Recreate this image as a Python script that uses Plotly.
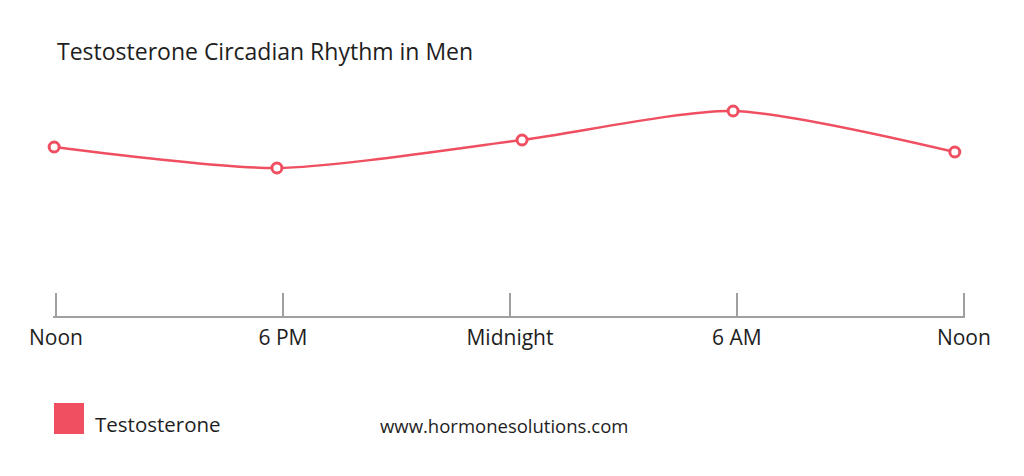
import plotly.graph_objects as go

# ======================
# DATA
# ======================
hours = [-0.05, 5.84, 12.32, 17.9, 23.76]       # hours after noon
level = [169, 148, 176, 205, 164]              # relative testosterone level
tick_hours = [0, 6, 12, 18, 24]
tick_labels = ["Noon", "6 PM", "Midnight", "6 AM", "Noon"]
series_name = "Testosterone"

RED = "#ef4f61"
GREY = "#a0a0a0"
FONT = "Open Sans"

# page body has an 8 px margin, so everything is placed 8 px up/left
OFF = 8
W, H = 1024, 476
X0, X1 = -0.08, 24.03
TICK0_PX, TICK24_PX = 56, 964                   # where Noon / Noon sit in the reference
PPH = (TICK24_PX - TICK0_PX) / 24               # px per hour
L = TICK0_PX + X0 * PPH - OFF                   # plot area x (px in figure)
R = TICK24_PX + (X1 - 24) * PPH - OFF
T, B = 80 - OFF, 316 - OFF                      # plot area y


def px_x(p):
    # reference page pixel -> paper x
    return (p - OFF - L) / (R - L)


def px_y(p):
    return (B - (p - OFF)) / (B - T)


fig = go.Figure()
fig.add_trace(go.Scatter(
    x=hours, y=level, mode="lines+markers", name=series_name,
    line=dict(color=RED, width=2.5, shape="spline", smoothing=0.7),
    marker=dict(symbol="circle", size=10, color="white",
                line=dict(color=RED, width=3)),
    cliponaxis=False, showlegend=False,
))

fig.update_layout(
    width=W, height=H,
    margin=dict(l=L, r=W - R, t=T, b=H - B),
    paper_bgcolor="white", plot_bgcolor="white",
    font=dict(family=FONT, color="#1e1e1e"),
    title=dict(text="Testosterone Circadian Rhythm in Men",
               x=(57 - OFF) / W, xanchor="left", xref="container",
               y=1 - (52 - OFF) / H, yanchor="middle", yref="container",
               font=dict(size=23, color="#1e1e1e")),
    xaxis=dict(range=[X0, X1], tickvals=tick_hours, ticktext=tick_labels,
               showgrid=False, zeroline=False,
               showline=True, linecolor=GREY, linewidth=2,
               ticks="inside", ticklen=23, tickwidth=2, tickcolor=GREY,
               ticklabelstandoff=2,
               tickfont=dict(size=21, color="#1e1e1e")),
    yaxis=dict(range=[0, 236], visible=False, fixedrange=True),
)

# legend swatch + label, drawn by hand to get the big square
fig.add_shape(type="rect", xref="paper", yref="paper",
              x0=px_x(54), x1=px_x(84), y0=px_y(434), y1=px_y(403),
              fillcolor=RED, line=dict(width=0))
fig.add_annotation(text=series_name, xref="paper", yref="paper",
                   x=px_x(93), y=px_y(424), xanchor="left", yanchor="middle",
                   showarrow=False, font=dict(size=20.5, color="#1e1e1e"))
fig.add_annotation(text="www.hormonesolutions.com", xref="paper", yref="paper",
                   x=px_x(378), y=px_y(425), xanchor="left", yanchor="middle",
                   showarrow=False, font=dict(size=18.5, color="#1e1e1e"))

fig.write_html("out.html")
